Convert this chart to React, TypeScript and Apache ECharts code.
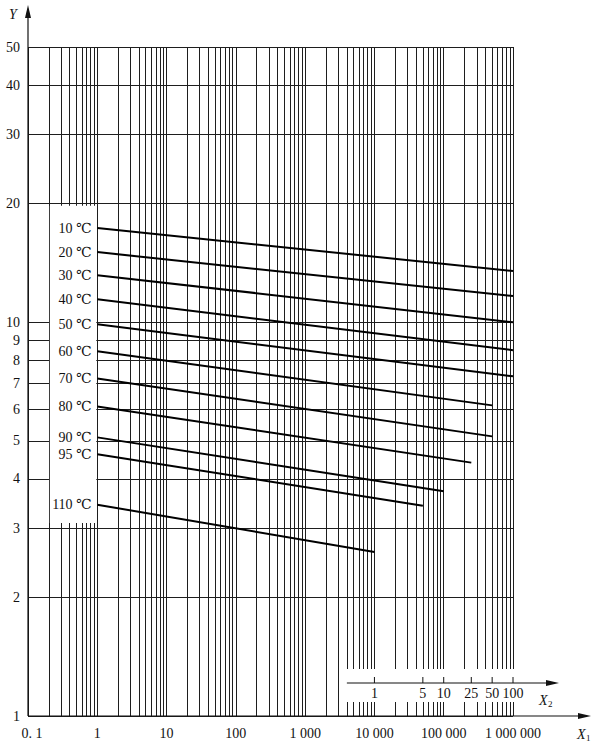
import React, { useEffect, useRef } from "react";
import * as echarts from "echarts";

// ---- axis / grid data ----
const X1_DECADES = [0.1, 1, 10, 100, 1000, 10000, 100000];
const X1_MANTISSA = [1, 2, 3, 4, 5, 6, 7, 8, 9];
const X1_MIN = 0.1;
const X1_MAX = 1000000;
const X1_TICK_VALUES = [0.1, 1, 10, 100, 1000, 10000, 100000, 1000000];
const X1_TICK_LABELS = ["0. 1", "1", "10", "100", "1 000", "10 000", "100 000", "1 000 000"];

const Y_MIN = 1;
const Y_MAX = 50;
const Y_GRID = [1, 2, 3, 4, 5, 6, 7, 8, 9, 10, 20, 30, 40, 50];
const Y_TICK_LABELS = ["1", "2", "3", "4", "5", "6", "7", "8", "9", "10", "20", "30", "40", "50"];

const X2_TICK_VALUES = [1, 5, 10, 25, 50, 100];
const X2_TICK_LABELS = ["1", "5", "10", "25", "50", "100"];
const X2_TO_X1 = 10000;

// ---- temperature lines ----
const TEMP_NAMES = ["10 ℃", "20 ℃", "30 ℃", "40 ℃", "50 ℃", "60 ℃", "70 ℃", "80 ℃", "90 ℃", "95 ℃", "110 ℃"];
const X_START = [1, 1, 1, 1, 1, 1, 1, 1, 1, 1, 1];
const Y_START = [17.35, 15.07, 13.17, 11.44, 9.88, 8.44, 7.2, 6.11, 5.1, 4.62, 3.44];
const X_END = [1000000, 1000000, 1000000, 1000000, 1000000, 500000, 500000, 250000, 100000, 50000, 10000];
const Y_END = [13.49, 11.65, 10.0, 8.49, 7.29, 6.15, 5.13, 4.4, 3.72, 3.42, 2.61];

const FONT = "'Liberation Serif', 'Times New Roman', 'DejaVu Serif', serif";
const INK = "#111";
const GRID_INK = "#1e1e1e";

export default function App() {
  const ref = useRef<HTMLDivElement>(null);

  useEffect(() => {
    if (!ref.current) return;
    document.body.style.margin = "0";
    const chart = echarts.init(ref.current, null, { renderer: "svg" });

    const x1Grid: number[] = [];
    X1_DECADES.forEach((d) => X1_MANTISSA.forEach((m) => x1Grid.push(d * m)));
    x1Grid.push(X1_MAX);

    const gridSeries: any = {
      type: "line",
      name: "grid",
      data: [],
      z: 1,
      silent: true,
      markLine: {
        silent: true,
        animation: false,
        symbol: ["none", "none"],
        label: { show: false },
        emphasis: { disabled: true },
        lineStyle: { color: GRID_INK, width: 1, type: "solid" },
        data: [
          ...x1Grid.map((v) => ({ xAxis: v })),
          ...Y_GRID.map((v) => ({ yAxis: v })),
        ],
      },
    };

    const tempSeries = TEMP_NAMES.map((name, i) => ({
      type: "line",
      name,
      z: 10,
      silent: true,
      symbol: "circle",
      symbolSize: 1,
      showSymbol: true,
      itemStyle: { color: "rgba(0,0,0,0)" },
      lineStyle: { color: "#000", width: 2 },
      emphasis: { disabled: true },
      label: {
        show: false,
        position: "left",
        distance: 5,
        formatter: name,
        color: INK,
        fontSize: 14,
        fontFamily: FONT,
      },
      data: [
        { value: [X_START[i], Y_START[i]], label: { show: true } },
        { value: [X_END[i], Y_END[i]] },
      ],
    }));

    const hiddenAxis = {
      axisLine: { show: false },
      axisTick: { show: false },
      axisLabel: { show: false },
      splitLine: { show: false },
      minorTick: { show: false },
      minorSplitLine: { show: false },
    };

    chart.setOption({
      animation: false,
      backgroundColor: "#fff",
      tooltip: { show: false },
      grid: { left: 28, right: 87, top: 47, bottom: 29, containLabel: false, outerBoundsMode: "none" },
      xAxis: { type: "log", logBase: 10, min: X1_MIN, max: X1_MAX, ...hiddenAxis },
      yAxis: { type: "log", logBase: 10, min: Y_MIN, max: Y_MAX, ...hiddenAxis },
      series: [gridSeries, ...tempSeries],
    });

    const P = (x: number, y: number) => chart.convertToPixel({ seriesIndex: 0 }, [x, y]) as number[];
    const [x0, yB] = P(X1_MIN, Y_MIN);
    const [xR] = P(X1_MAX, Y_MAX);

    const g: any[] = [];
    const txt = (text: string, x: number, y: number, align: string, size = 14, italic = false) => ({
      type: "text",
      z: 20,
      silent: true,
      x,
      y,
      style: {
        text,
        fill: INK,
        fontSize: size,
        fontFamily: FONT,
        fontStyle: italic ? "italic" : "normal",
        textAlign: align,
        textVerticalAlign: "middle",
      },
    });
    const ln = (x1: number, y1: number, x2: number, y2: number, w = 1) => ({
      type: "line",
      z: 20,
      silent: true,
      shape: { x1, y1, x2, y2 },
      style: { stroke: INK, lineWidth: w },
    });
    const arrowRight = (tx: number, ty: number) => ({
      type: "polygon",
      z: 20,
      silent: true,
      shape: { points: [[tx, ty], [tx - 13, ty - 3], [tx - 13, ty + 3]] },
      style: { fill: INK },
    });

    // left mask (label area)
    const lx1 = P(0.2, 1)[0];
    const lx2 = P(1, 1)[0];
    const ly1 = P(1, 20)[1];
    const ly2 = P(1, 3)[1];
    g.push({
      type: "rect",
      z: 5,
      silent: true,
      shape: { x: lx1 + 1, y: ly1 + 2, width: lx2 - lx1 - 2, height: ly2 - ly1 - 7 },
      style: { fill: "#fff" },
    });

    // bottom-right mask (X2 scale area)
    const bx1 = P(3000, 1)[0] + 3;
    g.push({
      type: "rect",
      z: 5,
      silent: true,
      shape: { x: bx1, y: yB - 47, width: xR + 12 - bx1, height: 33 },
      style: { fill: "#fff" },
    });

    // main axes
    g.push(ln(x0, yB, x0, 10, 1.2));
    g.push({
      type: "polygon",
      z: 20,
      silent: true,
      shape: { points: [[x0, 5], [x0 - 3, 18], [x0 + 3, 18]] },
      style: { fill: INK },
    });
    g.push(ln(x0, yB, xR + 74, yB, 1.2));
    g.push(arrowRight(xR + 78, yB));

    // X1 labels
    X1_TICK_VALUES.forEach((v, i) => {
      const x = P(v, 1)[0] + (i === 0 ? 4 : 0);
      g.push(txt(X1_TICK_LABELS[i], x, yB + 17, "center"));
    });
    // Y labels
    Y_GRID.forEach((v, i) => {
      const y = P(1, v)[1];
      g.push(txt(Y_TICK_LABELS[i], x0 - 8, y, "right"));
    });

    // axis names
    g.push(txt("Y", 13, 14, "center", 14, true));
    g.push(txt("X", xR + 64, yB + 18, "left", 14, true));
    g.push(txt("1", xR + 73, yB + 22, "left", 9));

    // X2 axis
    const y2 = yB - 33;
    const x2s = P(4000, 1)[0];
    g.push(ln(x2s, y2, xR + 40, y2, 1.2));
    g.push(arrowRight(xR + 46, y2));
    X2_TICK_VALUES.forEach((v, i) => {
      const x = P(v * X2_TO_X1, 1)[0];
      g.push(ln(x, y2 - 6, x, y2, 1));
      g.push(txt(X2_TICK_LABELS[i], x, y2 + 10, "center"));
    });
    g.push(txt("X", xR + 26, y2 + 17, "left", 14, true));
    g.push(txt("2", xR + 35, y2 + 21, "left", 9));

    chart.setOption({ graphic: { elements: g } });

    return () => chart.dispose();
  }, []);

  return (
    <div style={{ position: "fixed", left: 0, top: 0, width: 600, height: 745, background: "#fff" }}>
      <div ref={ref} style={{ width: 600, height: 745 }} />
    </div>
  );
}
